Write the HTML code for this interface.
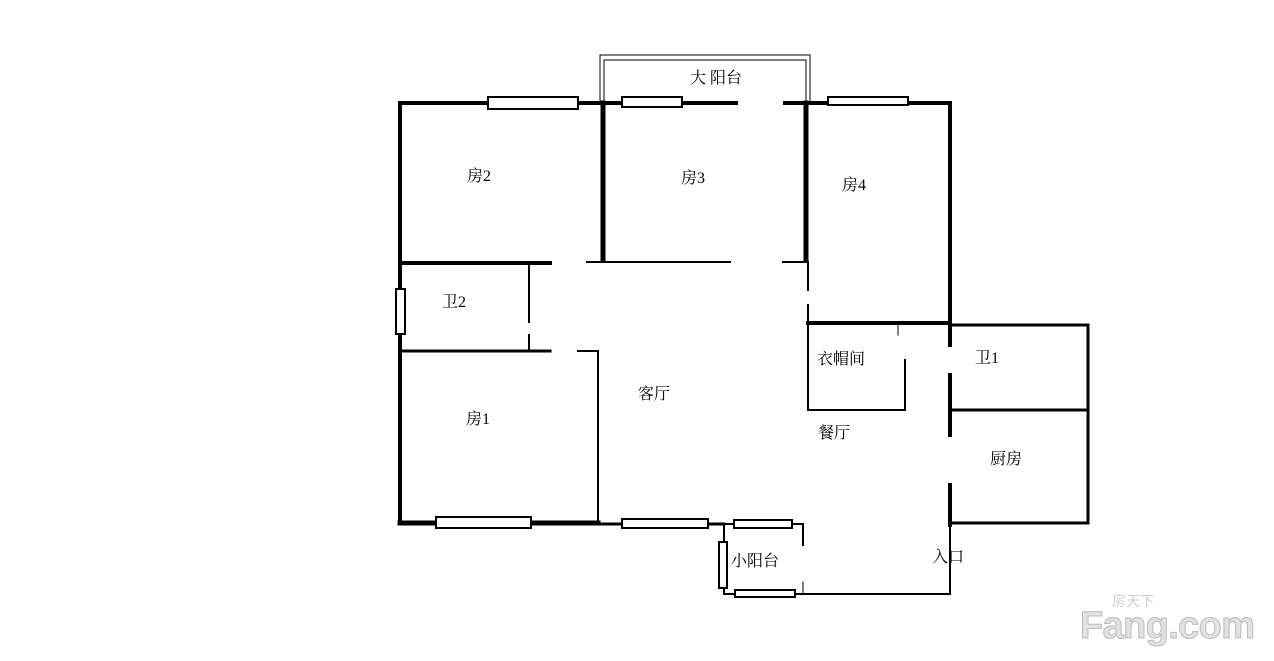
<!DOCTYPE html>
<html><head><meta charset="utf-8"><style>
html,body{margin:0;padding:0;background:#fff;}
svg{display:block}
text{font-family:"Liberation Serif","Noto Serif CJK SC","Noto Sans CJK SC",serif;font-size:16px;fill:#000;}
</style></head><body>
<svg width="1274" height="661" viewBox="0 0 1274 661" xmlns="http://www.w3.org/2000/svg">
<g stroke="#000" fill="none" stroke-linecap="square">
<path d="M600 103 V55 H810 V103" stroke-width="1"/>
<path d="M604 103 V60 H806 V103" stroke-width="1"/>
<path d="M400 103 H602" stroke-width="4"/>
<path d="M602 103 H736" stroke-width="4"/>
<path d="M785 103 H950" stroke-width="4"/>
<path d="M400 103 V523" stroke-width="4"/>
<path d="M400 263 H550" stroke-width="4"/>
<path d="M587 262 H730" stroke-width="2"/>
<path d="M783 262 H806" stroke-width="2"/>
<path d="M603 103 V260" stroke-width="5"/>
<path d="M806 103 V260" stroke-width="5"/>
<path d="M950 103 V322" stroke-width="4"/>
<path d="M808 262 V290" stroke-width="2"/>
<path d="M808 305 V410" stroke-width="2"/>
<path d="M529 263 V322" stroke-width="2"/>
<path d="M529 335 V350" stroke-width="2"/>
<path d="M400 351 H550" stroke-width="3"/>
<path d="M578 351 H598 V523" stroke-width="2"/>
<path d="M400 523 H598" stroke-width="5"/>
<path d="M598 524 H724" stroke-width="3"/>
<path d="M724 524 H803 V545" stroke-width="2"/>
<path d="M724 524 V594 H735" stroke-width="2"/>
<path d="M795 594 H950 V565" stroke-width="2"/>
<path d="M803 582 V594" stroke-width="1"/>
<path d="M808 323 H950" stroke-width="4"/>
<path d="M808 410 H905 V360" stroke-width="2"/>
<path d="M898 323 V335" stroke-width="1"/>
<path d="M950 322 V345" stroke-width="4"/>
<path d="M950 375 V435" stroke-width="4"/>
<path d="M950 325 H1088 V523 H950" stroke-width="3"/>
<path d="M950 410 H1088" stroke-width="3"/>
<path d="M950 485 V525" stroke-width="4"/>
<path d="M950 525 V565" stroke-width="2"/>
</g>
<g fill="#fff" stroke="#000" stroke-width="2">
<rect x="488" y="97" width="90" height="12"/>
<rect x="622" y="97" width="60" height="10"/>
<rect x="828" y="97" width="80" height="8"/>
<rect x="396" y="289" width="9" height="45"/>
<rect x="436" y="517" width="95" height="11"/>
<rect x="622" y="519" width="86" height="9"/>
<rect x="734" y="520" width="58" height="8"/>
<rect x="719" y="542" width="8" height="46"/>
<rect x="735" y="590" width="60" height="7"/>
</g>
<text x="690" y="83">大 阳台</text>
<text x="467" y="181">房2</text>
<text x="681" y="183">房3</text>
<text x="842" y="190">房4</text>
<text x="442" y="307">卫2</text>
<text x="817" y="364">衣帽间</text>
<text x="975" y="363">卫1</text>
<text x="466" y="424">房1</text>
<text x="638" y="399">客厅</text>
<text x="818" y="438">餐厅</text>
<text x="990" y="464">厨房</text>
<text x="731" y="566">小阳台</text>
<text x="932" y="562">入口</text>
<text x="1080" y="638" textLength="175" style="font-family:'Liberation Sans',sans-serif;font-size:38px;font-weight:bold;fill:#e2e2e2;stroke:#bbb;stroke-width:1">Fang.com</text>
<text x="1112" y="606" style="font-family:'Liberation Sans','Noto Sans CJK SC',sans-serif;font-size:14px;fill:#ccc">房天下</text>
</svg>
</body></html>
